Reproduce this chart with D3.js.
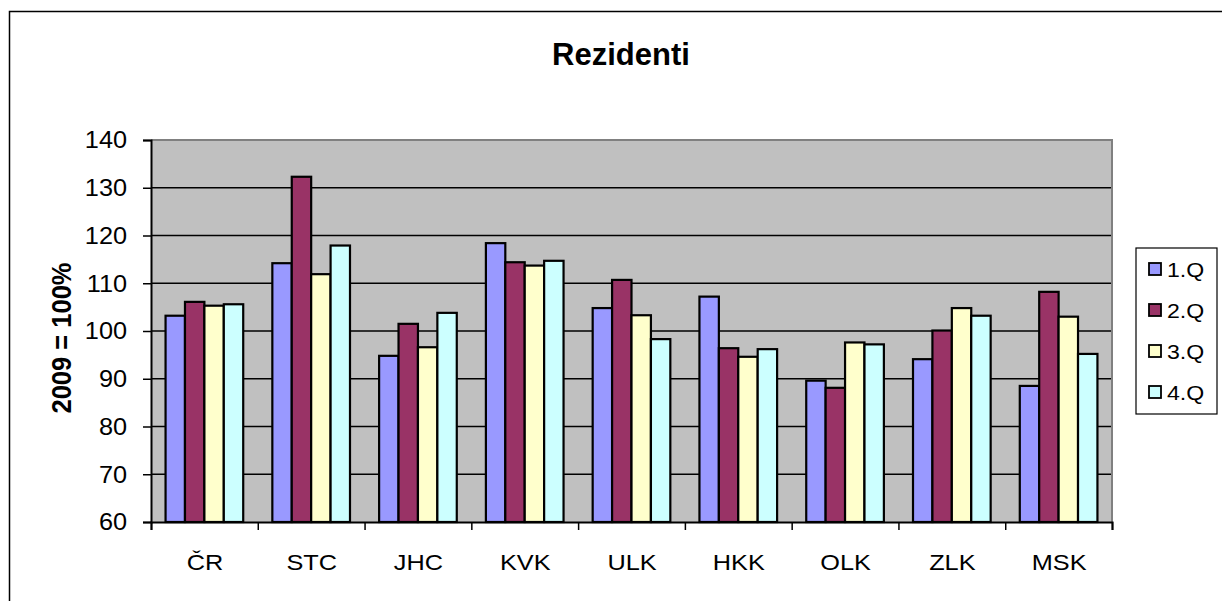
<!DOCTYPE html>
<html>
<head>
<meta charset="utf-8">
<script src="https://cdn.jsdelivr.net/npm/d3@7"></script>
<style>
  body { margin: 0; background: #fff; }
  text { font-family: "Liberation Sans", Arial, sans-serif; fill: #000; }
</style>
</head>
<body>
<svg width="1222" height="601"></svg>
<script>
// chart data
const regions = ["ČR", "STC", "JHC", "KVK", "ULK", "HKK", "OLK", "ZLK", "MSK"];
const quarters = ["1.Q", "2.Q", "3.Q", "4.Q"];
const q1 = [103.2, 114.2, 94.8, 118.4, 104.8, 107.2, 89.6, 94.1, 88.5];
const q2 = [106.1, 132.3, 101.5, 114.4, 110.7, 96.4, 88.1, 100.1, 108.2];
const q3 = [105.3, 111.9, 96.6, 113.7, 103.3, 94.6, 97.6, 104.8, 103.0];
const q4 = [105.6, 117.9, 103.8, 114.7, 98.3, 96.2, 97.2, 103.2, 95.2];
const yTicks = [60, 70, 80, 90, 100, 110, 120, 130, 140];
const colors = ["#9999ff", "#993366", "#ffffcc", "#ccffff"];

const series = [q1, q2, q3, q4];

let svg = d3.select("svg");

// outer frame (only top + left visible in the crop)
svg.append("path")
  .attr("d", "M9.5,601 V11.5 H1222")
  .attr("fill", "none")
  .attr("stroke", "#000")
  .attr("stroke-width", 1.5);

const pL = 151, pR = 1112, pT = 140, pB = 522;

// excel style: gap width 150% -> group = 4 bars, gap = 1.5 bars
let x = d3.scaleBand().domain(regions).range([pL, pR])
  .paddingInner(1.5 / 5.5).paddingOuter(0.75 / 5.5);
let xq = d3.scaleBand().domain(quarters).range([0, x.bandwidth()]);
let xi = d3.scaleLinear().domain([0, regions.length]).range([pL, pR]);
let y = d3.scaleLinear().domain([60, 140]).range([pB, pT]);

// plot background
svg.append("rect")
  .attr("x", pL).attr("y", pT)
  .attr("width", pR - pL).attr("height", pB - pT)
  .attr("fill", "#c0c0c0");

// gridlines
svg.append("g")
  .selectAll("line")
  .data(yTicks.slice(1, -1))
  .join("line")
  .attr("x1", pL).attr("x2", pR)
  .attr("y1", d => y(d)).attr("y2", d => y(d))
  .attr("stroke", "#000")
  .attr("stroke-width", 1.4);

// top / right border of plot area
svg.append("path")
  .attr("d", `M${pL},${pT} H${pR} V${pB}`)
  .attr("fill", "none")
  .attr("stroke", "#808080")
  .attr("stroke-width", 2);

// bars
series.forEach((vals, si) => {
  svg.append("g")
    .selectAll("rect")
    .data(vals)
    .join("rect")
    .attr("x", (d, i) => x(regions[i]) + xq(quarters[si]))
    .attr("y", d => y(d))
    .attr("width", xq.bandwidth())
    .attr("height", d => y(60) - y(d))
    .attr("fill", colors[si])
    .attr("stroke", "#000")
    .attr("stroke-width", 2.2);
});

// y axis
let yAxis = d3.axisLeft(y).tickValues(yTicks).tickSize(8).tickPadding(12);
let gy = svg.append("g")
  .attr("transform", `translate(${pL}, 0)`)
  .call(yAxis);
gy.select(".domain").attr("stroke", "#000").attr("stroke-width", 2);
gy.selectAll(".tick line").attr("stroke", "#000").attr("stroke-width", 1.5);
gy.selectAll(".tick text")
  .attr("font-size", 23)
  .attr("font-family", "Liberation Sans, Arial, sans-serif")
  .attr("x", -24 / 1.1)
  .attr("dy", "0.34em")
  .attr("transform", "scale(1.1,1)");

// x axis boundary ticks
let xAxis = d3.axisBottom(xi).tickValues(d3.range(regions.length + 1)).tickSize(8).tickFormat("");
let gx = svg.append("g")
  .attr("transform", `translate(0, ${pB})`)
  .call(xAxis);
gx.select(".domain").attr("stroke", "#000").attr("stroke-width", 2);
gx.selectAll(".tick line").attr("stroke", "#000").attr("stroke-width", 1.5);

// category labels
let xLab = d3.axisBottom(d3.scalePoint().domain(regions).range([x(regions[0]) + x.bandwidth() / 2, x(regions[regions.length - 1]) + x.bandwidth() / 2])).tickSize(0);
let gl = svg.append("g")
  .attr("transform", `translate(0, ${pB})`)
  .call(xLab);
gl.select(".domain").remove();
gl.selectAll(".tick text")
  .attr("font-size", 22)
  .attr("font-family", "Liberation Sans, Arial, sans-serif")
  .attr("dy", null)
  .attr("y", 48)
  .attr("transform", "scale(1.15,1)");

// title
svg.append("text")
  .attr("x", 621).attr("y", 65)
  .attr("text-anchor", "middle")
  .attr("font-size", 31)
  .attr("font-weight", "bold")
  .text("Rezidenti");

// y label
svg.append("text")
  .attr("transform", "translate(71, 338) scale(1.1,1) rotate(-90)")
  .attr("text-anchor", "middle")
  .attr("font-size", 25.5)
  .attr("font-weight", "bold")
  .text("2009 = 100%");

// legend
let lg = svg.append("g").attr("transform", "translate(1136, 248)");
lg.append("rect")
  .attr("width", 81).attr("height", 166)
  .attr("fill", "#fff")
  .attr("stroke", "#000")
  .attr("stroke-width", 1.2);
let items = lg.selectAll("g.item")
  .data(quarters)
  .join("g")
  .attr("class", "item")
  .attr("transform", (d, i) => `translate(13, ${15 + i * 41})`);
items.append("rect")
  .attr("width", 12).attr("height", 12)
  .attr("fill", (d, i) => colors[i])
  .attr("stroke", "#000")
  .attr("stroke-width", 1.8);
items.append("text")
  .attr("x", 18 / 1.1).attr("y", 14)
  .attr("font-size", 21)
  .attr("transform", "scale(1.1,1)")
  .text(d => d);
</script>
</body>
</html>
